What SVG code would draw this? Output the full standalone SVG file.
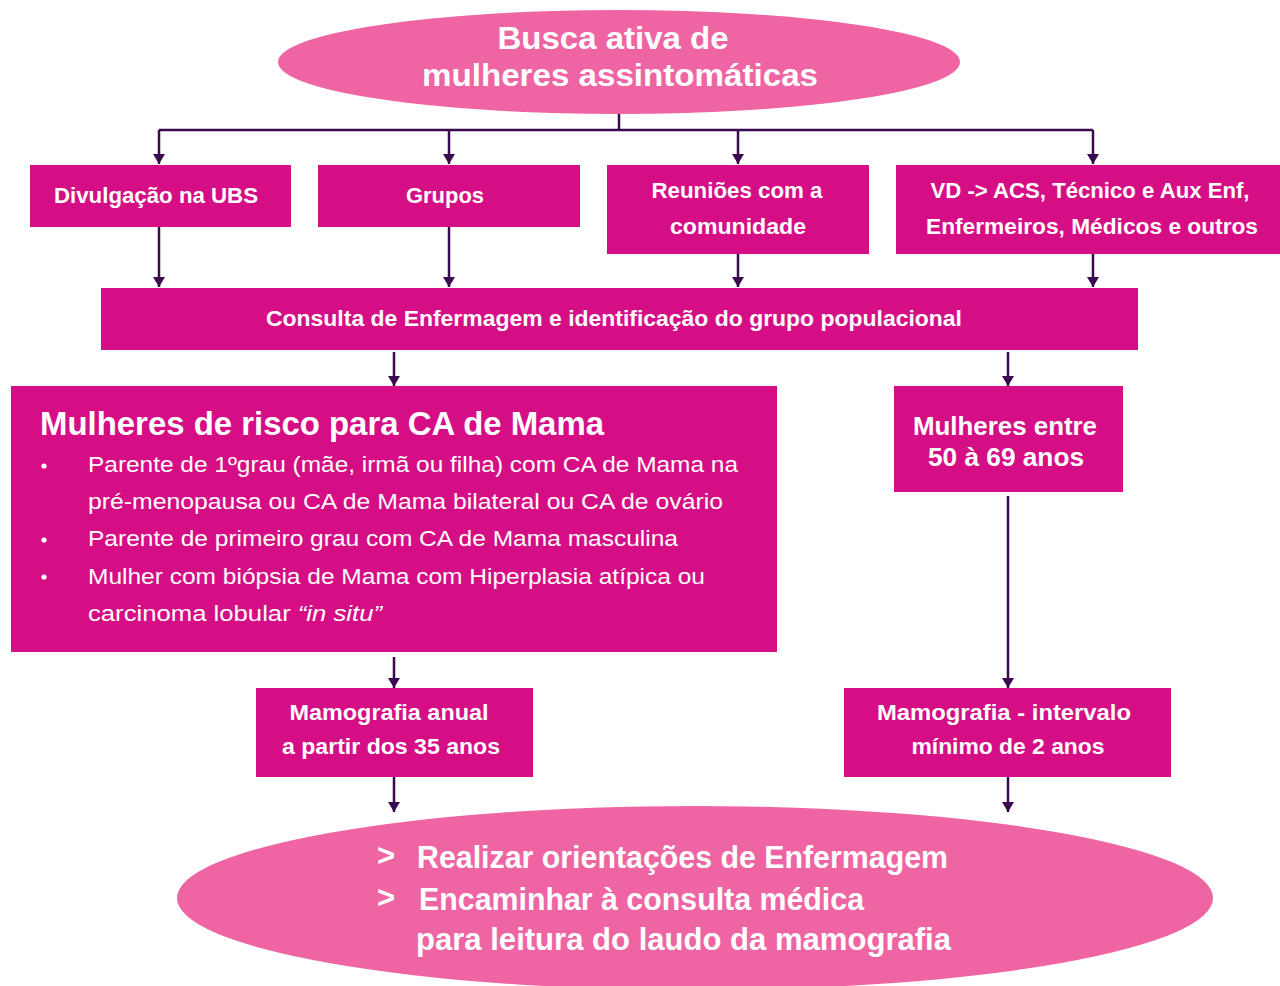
<svg xmlns="http://www.w3.org/2000/svg" width="1280" height="986" viewBox="0 0 1280 986">
  <defs>
    <style>
      .oval { fill: #ef65a3; }
      .box { fill: #d60e85; }
      .wire { fill: none; stroke: #3a0a4e; stroke-width: 2.5; }
      .arrow { fill: none; stroke: #3a0a4e; stroke-width: 2.5; marker-end: url(#head); }
      text { font-family: "Liberation Sans", Arial, sans-serif; fill: #ffffff; }
      .lbl { font-size: 22px; font-weight: bold; text-anchor: middle; }
      .big { font-size: 32px; font-weight: bold; text-anchor: middle; }
      .title { font-size: 33px; font-weight: bold; }
      .item { font-size: 22px; }
      .age { font-size: 26px; font-weight: bold; text-anchor: middle; }
      .act { font-size: 31px; font-weight: bold; }
    </style>
    <marker id="head" viewBox="0 0 10 12" markerWidth="10" markerHeight="12" refX="10" refY="6" orient="auto" markerUnits="userSpaceOnUse">
      <path d="M0,0 L10,6 L0,12 Z" fill="#3a0a4e"/>
    </marker>
  </defs>

  <!-- connectors -->
  <g id="connectors">
    <path class="wire" d="M619,114 V130 M159,130 H1093"/>
    <path class="arrow" d="M159,130 V164"/>
    <path class="arrow" d="M449,130 V164"/>
    <path class="arrow" d="M738,130 V164"/>
    <path class="arrow" d="M1093,130 V164"/>
    <path class="arrow" d="M159,227 V287"/>
    <path class="arrow" d="M449,227 V287"/>
    <path class="arrow" d="M738,254 V287"/>
    <path class="arrow" d="M1093,254 V287"/>
    <path class="arrow" d="M394,352 V386"/>
    <path class="arrow" d="M1008,352 V386"/>
    <path class="arrow" d="M394,657 V688"/>
    <path class="arrow" d="M1008,496 V688"/>
    <path class="arrow" d="M394,777 V812"/>
    <path class="arrow" d="M1008,777 V812"/>
  </g>

  <!-- start -->
  <g id="busca">
    <ellipse class="oval" cx="619" cy="62" rx="341" ry="52"/>
    <text class="big" x="613" y="49" textLength="231" lengthAdjust="spacingAndGlyphs">Busca ativa de</text>
    <text class="big" x="620" y="86" textLength="396" lengthAdjust="spacingAndGlyphs">mulheres assintomáticas</text>
  </g>

  <!-- outreach channels -->
  <g id="divulgacao">
    <rect class="box" x="30" y="165" width="261" height="62"/>
    <text class="lbl" x="156" y="203" textLength="204" lengthAdjust="spacingAndGlyphs">Divulgação na UBS</text>
  </g>
  <g id="grupos">
    <rect class="box" x="318" y="165" width="262" height="62"/>
    <text class="lbl" x="445" y="203" textLength="78" lengthAdjust="spacingAndGlyphs">Grupos</text>
  </g>
  <g id="reunioes">
    <rect class="box" x="607" y="165" width="262" height="89"/>
    <text class="lbl" x="737" y="198" textLength="171" lengthAdjust="spacingAndGlyphs">Reuniões com a</text>
    <text class="lbl" x="738" y="234" textLength="136" lengthAdjust="spacingAndGlyphs">comunidade</text>
  </g>
  <g id="vd">
    <rect class="box" x="896" y="165" width="384" height="89"/>
    <text class="lbl" x="1090" y="198" textLength="319" lengthAdjust="spacingAndGlyphs">VD -&gt; ACS, Técnico e Aux Enf,</text>
    <text class="lbl" x="1092" y="234" textLength="332" lengthAdjust="spacingAndGlyphs">Enfermeiros, Médicos e outros</text>
  </g>

  <!-- nursing consultation -->
  <g id="consulta">
    <rect class="box" x="101" y="288" width="1037" height="62"/>
    <text class="lbl" x="614" y="326" textLength="696" lengthAdjust="spacingAndGlyphs">Consulta de Enfermagem e identificação do grupo populacional</text>
  </g>

  <!-- risk group -->
  <g id="risco">
    <rect class="box" x="11" y="386" width="766" height="266"/>
    <text class="title" x="40" y="435" textLength="564" lengthAdjust="spacingAndGlyphs">Mulheres de risco para CA de Mama</text>
    <circle cx="44" cy="466" r="2.6" fill="#ffffff"/>
    <circle cx="44" cy="540" r="2.6" fill="#ffffff"/>
    <circle cx="44" cy="577" r="2.6" fill="#ffffff"/>
    <text class="item" x="88" y="472" textLength="650" lengthAdjust="spacingAndGlyphs">Parente de 1ºgrau (mãe, irmã ou filha) com CA de Mama na</text>
    <text class="item" x="88" y="509" textLength="635" lengthAdjust="spacingAndGlyphs">pré-menopausa ou CA de Mama bilateral ou CA de ovário</text>
    <text class="item" x="88" y="546" textLength="590" lengthAdjust="spacingAndGlyphs">Parente de primeiro grau com CA de Mama masculina</text>
    <text class="item" x="88" y="584" textLength="617" lengthAdjust="spacingAndGlyphs">Mulher com biópsia de Mama com Hiperplasia atípica ou</text>
    <text class="item" x="88" y="621" textLength="294" lengthAdjust="spacingAndGlyphs">carcinoma lobular <tspan font-style="italic">“in situ”</tspan></text>
  </g>

  <!-- age group -->
  <g id="idade">
    <rect class="box" x="894" y="386" width="229" height="106"/>
    <text class="age" x="1005" y="435" textLength="184" lengthAdjust="spacingAndGlyphs">Mulheres  entre</text>
    <text class="age" x="1006" y="466" textLength="156" lengthAdjust="spacingAndGlyphs">50 à 69 anos</text>
  </g>

  <!-- screening intervals -->
  <g id="mamo-anual">
    <rect class="box" x="256" y="688" width="277" height="89"/>
    <text class="lbl" x="389" y="720" textLength="199" lengthAdjust="spacingAndGlyphs">Mamografia anual</text>
    <text class="lbl" x="391" y="754" textLength="218" lengthAdjust="spacingAndGlyphs">a partir dos 35 anos</text>
  </g>
  <g id="mamo-intervalo">
    <rect class="box" x="844" y="688" width="327" height="89"/>
    <text class="lbl" x="1004" y="720" textLength="254" lengthAdjust="spacingAndGlyphs">Mamografia - intervalo</text>
    <text class="lbl" x="1008" y="754" textLength="193" lengthAdjust="spacingAndGlyphs">mínimo de 2 anos</text>
  </g>

  <!-- follow-up -->
  <g id="orientacoes">
    <ellipse class="oval" cx="695" cy="898" rx="518" ry="92"/>
    <text class="act" x="377" y="866" font-size="22">&gt;</text>
    <text class="act" x="417" y="868" textLength="531" lengthAdjust="spacingAndGlyphs">Realizar orientações de Enfermagem</text>
    <text class="act" x="377" y="908" font-size="22">&gt;</text>
    <text class="act" x="419" y="910" textLength="445" lengthAdjust="spacingAndGlyphs">Encaminhar à consulta médica</text>
    <text class="act" x="416" y="950" textLength="535" lengthAdjust="spacingAndGlyphs">para leitura do laudo da mamografia</text>
  </g>
</svg>
